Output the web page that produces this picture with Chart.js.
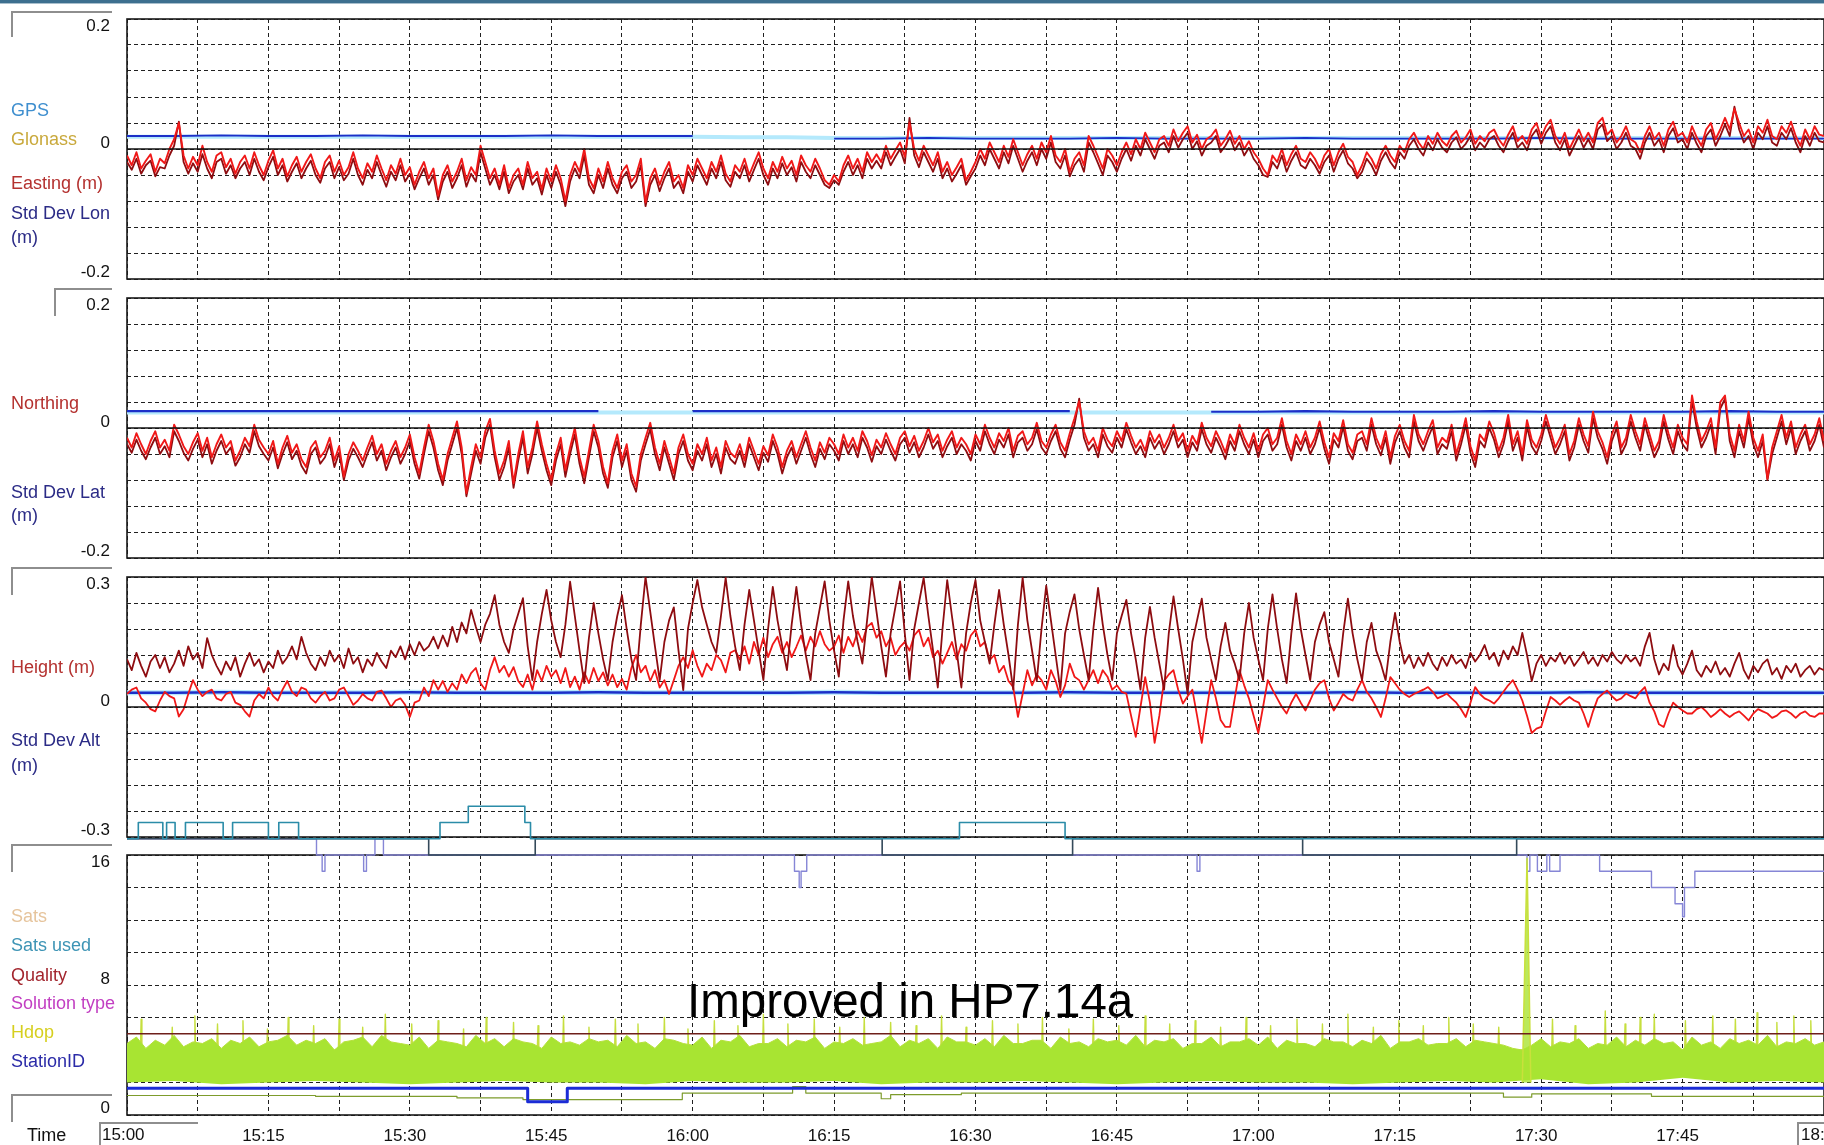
<!DOCTYPE html>
<html>
<head>
<meta charset="utf-8">
<title>GNSS position log 15:00 - 18:00</title>
<script src="https://cdn.jsdelivr.net/npm/chart.js@4.4.1/dist/chart.umd.min.js"></script>
<style>
  html, body { margin: 0; padding: 0; background: #fff; }
  #stage { position: relative; width: 1824px; height: 1145px; overflow: hidden;
           font-family: "Liberation Sans", Arial, sans-serif; }
  #stage canvas { position: absolute; left: 0; top: 0; }
  .bar { position: absolute; left: 0; top: 0; width: 1824px; height: 3px; background: #3d6f8f;
         border-bottom: 1px solid #a9bfcd; }
  .lbl { position: absolute; left: 11px; font-size: 18px; line-height: 20px; white-space: nowrap; }
  .box { position: absolute; border-top: 2px solid #8e8e8e; border-left: 2px solid #8e8e8e; }
  .tm { position: absolute; font-size: 17px; line-height: 20px; color: #111; white-space: nowrap; }
  #note { position: absolute; left: 687px; top: 977px; font-size: 47.5px; line-height: 47px;
          color: #000; white-space: nowrap; z-index: 5; }
</style>
</head>
<body>
<div id="stage">
  <div class="bar"></div>
  <canvas id="pEast" width="1824" height="1145"></canvas>
  <canvas id="pNorth" width="1824" height="1145"></canvas>
  <canvas id="pHeight" width="1824" height="1145"></canvas>
  <canvas id="pStatus" width="1824" height="1145"></canvas>

  <div class="box" style="left:11px;top:11px;width:99px;height:24px"></div>
  <div class="box" style="left:54px;top:288px;width:56px;height:26px"></div>
  <div class="box" style="left:11px;top:567px;width:99px;height:26px"></div>
  <div class="box" style="left:11px;top:844px;width:99px;height:26px"></div>
  <div class="box" style="left:11px;top:1094px;width:99px;height:26px"></div>
  <div class="box" style="left:99px;top:1122px;width:97px;height:23px"></div>
  <div class="box" style="left:1797px;top:1122px;width:40px;height:23px"></div>

  <div class="lbl" style="top:100px;color:#3f8fcf">GPS</div>
  <div class="lbl" style="top:129px;color:#c9a93c">Glonass</div>
  <div class="lbl" style="top:173px;color:#b4312f">Easting (m)</div>
  <div class="lbl" style="top:203px;color:#2b2b86">Std Dev Lon</div>
  <div class="lbl" style="top:227px;color:#2b2b86">(m)</div>

  <div class="lbl" style="top:393px;color:#b4312f">Northing</div>
  <div class="lbl" style="top:482px;color:#2b2b86">Std Dev Lat</div>
  <div class="lbl" style="top:505px;color:#2b2b86">(m)</div>

  <div class="lbl" style="top:657px;color:#b4312f">Height (m)</div>
  <div class="lbl" style="top:730px;color:#2b2b86">Std Dev Alt</div>
  <div class="lbl" style="top:755px;color:#2b2b86">(m)</div>

  <div class="lbl" style="top:906px;color:#e6c49c">Sats</div>
  <div class="lbl" style="top:935px;color:#3d94b5">Sats used</div>
  <div class="lbl" style="top:965px;color:#a3262e">Quality</div>
  <div class="lbl" style="top:993px;color:#c23fc2">Solution type</div>
  <div class="lbl" style="top:1022px;color:#d6cf1e">Hdop</div>
  <div class="lbl" style="top:1051px;color:#2b2ba8">StationID</div>

  <div class="tm" style="left:27px;top:1125px;font-size:18px">Time</div>
  <div class="tm" style="left:102px;top:1125px">15:00</div>
  <div class="tm" style="left:1801px;top:1125px">18:00</div>

  <div id="note">Improved in HP7.14a</div>
</div>

<script>
// ---------------------------------------------------------------------------
// Log data. Time axis is minutes after 15:00 (0 .. 180).
// Position series are in millimetres, sampled every half minute;
// status series are in raw units.
// ---------------------------------------------------------------------------

// clock labels every 15 minutes
const timeLabels = ['15:00','15:15','15:30','15:45','16:00','16:15','16:30',
                    '16:45','17:00','17:15','17:30','17:45','18:00'];

// Easting (raw), every 0.5 min
const eastingMm = [
  -10,-25,-5,-30,-18,-8,-35,-15,-22,0,
  15,40,-10,-30,-12,-25,5,-20,-35,-10,
  -5,-28,-15,-38,-20,-10,-30,-5,-25,-40,
  -18,-2,-30,-15,-42,-25,-12,-35,-20,-8,
  -30,-45,-20,-10,-35,-18,-40,-28,-5,-30,
  -45,-22,-35,-10,-30,-48,-25,-38,-15,-40,
  -28,-55,-35,-20,-45,-30,-72,-40,-25,-50,
  -35,-15,-48,-28,-40,5,-20,-45,-30,-55,
  -25,-60,-40,-30,-55,-20,-45,-35,-62,-30,
  -50,-25,-45,-80,-40,-20,-35,0,-45,-60,
  -30,-50,-20,-45,-60,-35,-25,-50,-40,-15,
  -82,-45,-30,-55,-35,-20,-50,-40,-60,-25,
  -40,-15,-30,-45,-20,-35,-10,-38,-50,-25,
  -35,-15,-40,-22,-5,-30,-45,-20,-35,-12,
  -30,-18,-40,-10,-25,-35,-15,-30,-48,-55,
  -40,-50,-25,-10,-30,-15,-35,-5,-20,-8,
  -20,5,-15,-2,10,-12,40,0,-18,5,
  -10,-25,-5,-35,-20,-40,-28,-15,-48,-35,
  -20,0,-15,10,-5,-20,5,-12,15,-5,
  -25,-8,5,-15,10,-5,20,-10,-20,0,
  -35,-15,-5,-25,20,5,-12,-30,0,-10,
  -25,-5,10,-8,15,0,25,10,-5,15,
  20,5,30,12,25,35,10,22,0,15,
  20,30,5,15,28,8,20,0,12,-5,
  -15,-30,-40,-10,-20,0,-25,-8,5,-15,
  -20,-5,-15,-30,-10,0,-25,-5,8,-12,
  -20,-40,-25,-5,-15,-30,-8,5,-10,-20,
  5,-5,15,25,10,0,20,8,25,12,
  5,20,28,10,18,30,8,20,12,25,
  30,15,5,22,35,12,20,8,30,40,
  18,35,45,20,8,25,0,15,30,12,
  25,10,40,48,22,30,10,20,35,15,
  10,-5,20,35,15,25,5,30,42,20,
  25,10,35,18,5,30,40,15,30,48,
  30,62,40,20,30,10,35,25,45,20,
  15,35,25,42,20,5,30,15,35,22,
  20
];
// Easting (filtered), every 0.5 min
const eastingFilteredMm = [
  -20,-32,-15,-38,-25,-18,-42,-28,-30,-10,
  5,42,-20,-38,-22,-35,-8,-30,-45,-20,
  -15,-38,-25,-45,-30,-20,-40,-15,-35,-48,
  -28,-12,-40,-25,-50,-35,-22,-45,-30,-18,
  -40,-52,-30,-20,-45,-28,-48,-38,-15,-40,
  -55,-32,-45,-20,-40,-58,-35,-48,-25,-50,
  -38,-62,-45,-30,-55,-40,-78,-50,-35,-60,
  -45,-25,-58,-38,-50,-5,-30,-55,-40,-62,
  -35,-68,-50,-40,-62,-30,-55,-45,-70,-40,
  -60,-35,-55,-88,-50,-30,-45,-10,-55,-68,
  -40,-60,-30,-55,-68,-45,-35,-60,-50,-25,
  -88,-55,-40,-65,-45,-30,-60,-50,-68,-35,
  -50,-25,-40,-55,-30,-45,-20,-48,-58,-35,
  -45,-25,-50,-32,-15,-40,-55,-30,-45,-22,
  -40,-28,-50,-20,-35,-45,-25,-40,-55,-60,
  -48,-55,-35,-20,-40,-25,-45,-15,-30,-18,
  -30,-5,-25,-12,0,-22,48,-10,-28,-5,
  -20,-35,-15,-45,-30,-50,-38,-25,-55,-42,
  -30,-10,-25,0,-15,-30,-5,-22,5,-15,
  -35,-18,-5,-25,0,-15,10,-20,-30,-10,
  -42,-25,-15,-35,10,-5,-22,-40,-10,-20,
  -35,-15,0,-18,5,-10,15,0,-15,5,
  10,-5,20,2,15,25,0,12,-10,5,
  10,20,-5,5,18,-2,10,-10,2,-15,
  -25,-40,-43,-20,-30,-10,-35,-18,-5,-25,
  -30,-15,-25,-38,-20,-10,-35,-15,-2,-22,
  -30,-45,-35,-15,-25,-40,-18,-5,-20,-30,
  -5,-15,5,15,0,-10,10,-2,15,2,
  -5,10,18,0,8,20,-2,10,2,15,
  20,5,-5,12,25,2,10,-2,20,30,
  8,25,35,10,-2,15,-10,5,20,2,
  15,0,30,38,12,20,0,10,25,5,
  0,-15,10,25,5,15,-5,20,32,10,
  15,0,25,8,-5,20,30,5,20,38,
  20,65,30,10,20,0,25,15,35,10,
  5,25,15,32,10,-5,20,5,25,12,
  10
];
// Std Dev Lon, every 5 min (null = not reported)
const stdLonMm = [20,20,21,20,20,21,20,20,20,21,20,20,20,null,null,
  16,16,17,16,16,16,17,16,16,16,17,16,16,16,16,17,16,16,16,16,16,16];
const stdLonGlowMm = [19,19,19,19,19,19,19,19,19,19,19,19,19,18,18,
  17,17,17,17,17,17,17,17,17,17,17,17,17,17,17,17,17,17,17,17,17,17];

// Northing (raw), every 0.5 min
const northingMm = [
  -15,-30,-8,-25,-40,-20,-5,-30,-18,-35,
  5,-10,-28,-40,-22,-8,-35,-15,-45,-25,
  -10,-30,-20,-50,-35,-15,-28,5,-18,-30,
  -40,-20,-55,-30,-12,-38,-25,-48,-60,-30,
  -20,-45,-35,-15,-50,-28,-75,-40,-22,-35,
  -50,-30,-12,-40,-25,-55,-35,-20,-45,-30,
  -10,-45,-70,-30,5,-20,-55,-80,-40,-15,
  10,-30,-100,-60,-25,-45,-5,14,-35,-70,
  -50,-20,-85,-40,-5,-60,-30,10,-25,-55,
  -80,-40,-15,-65,-30,0,-45,-75,-35,5,
  -20,-60,-85,-35,-10,-50,-25,-70,-90,-40,
  -15,8,-30,-55,-20,-45,-70,-30,-10,-40,
  -55,-25,-40,-15,-50,-30,-60,-20,-38,-45,
  -25,-50,-15,-35,-55,-28,-42,-10,-30,-60,
  -35,-20,-45,-25,-5,-30,-50,-22,-38,-15,
  -25,-40,-10,-30,-15,-35,-5,-20,-42,-18,
  -30,-8,-25,-40,-15,-5,-28,-12,-35,-20,
  0,-22,-10,-35,-18,-5,-30,-15,-25,-40,
  -10,-25,5,-15,-30,-8,-20,0,-35,-12,
  -5,-25,-15,8,-20,-30,-10,5,-22,-35,
  -8,15,41,-5,-25,-15,-35,0,-18,-28,
  -5,-20,8,-12,-30,-18,-35,-5,-22,-10,
  -30,-15,5,-20,-8,-35,-12,-25,8,-15,
  -28,-5,-20,-38,-10,-25,5,-15,-30,-8,
  -35,-10,0,-25,-15,15,-20,-40,-10,-25,
  -5,-30,-15,10,-22,-45,-8,-20,12,-25,
  -38,-10,-5,-25,15,-15,-32,-5,-45,-12,
  5,-20,-35,20,-10,-25,-5,12,-30,-15,
  -22,5,-40,-15,15,-28,-50,-10,-20,10,
  -8,-35,-15,20,-25,-5,-40,12,-18,-30,
  -10,20,-5,-30,-15,5,-40,-20,15,-10,
  -28,25,-5,-22,-45,-10,10,-30,-15,20,
  -5,-25,15,-10,-35,-20,20,-8,-30,5,
  -15,-25,50,10,-20,-5,15,-30,40,50,
  -10,-35,5,-20,25,-15,-35,-10,-78,-30,
  -5,20,-15,10,-30,-10,5,-25,-10,15,
  -20
];
// Northing (filtered), every 0.5 min
const northingFilteredMm = [
  -25,-38,-18,-35,-48,-30,-15,-40,-28,-45,
  -5,-20,-38,-50,-32,-18,-45,-25,-55,-35,
  -20,-40,-30,-58,-45,-25,-38,-5,-28,-40,
  -50,-30,-62,-40,-22,-48,-35,-58,-70,-40,
  -30,-55,-45,-25,-60,-38,-80,-50,-32,-45,
  -60,-40,-22,-50,-35,-65,-45,-30,-55,-40,
  -20,-55,-78,-40,-5,-30,-65,-88,-50,-25,
  0,-40,-105,-70,-35,-55,-15,5,-45,-80,
  -60,-30,-92,-50,-15,-70,-40,0,-35,-65,
  -88,-50,-25,-75,-40,-10,-55,-85,-45,-5,
  -30,-70,-92,-45,-20,-60,-35,-80,-98,-50,
  -25,-2,-40,-65,-30,-55,-80,-40,-20,-50,
  -65,-35,-50,-25,-60,-40,-70,-30,-48,-55,
  -35,-60,-25,-45,-65,-38,-52,-20,-40,-70,
  -45,-30,-55,-35,-15,-40,-60,-32,-48,-25,
  -35,-50,-20,-40,-25,-45,-15,-30,-52,-28,
  -40,-18,-35,-50,-25,-15,-38,-22,-45,-30,
  -10,-32,-20,-45,-28,-15,-40,-25,-35,-50,
  -20,-35,-5,-25,-40,-18,-30,-10,-45,-22,
  -15,-35,-25,-2,-30,-40,-20,-5,-32,-45,
  -18,5,45,-15,-35,-25,-45,-10,-28,-38,
  -15,-30,-2,-22,-40,-28,-45,-15,-32,-20,
  -40,-25,-5,-30,-18,-45,-22,-35,-2,-25,
  -38,-15,-30,-48,-20,-35,-5,-25,-40,-18,
  -45,-20,-10,-35,-25,5,-30,-50,-20,-35,
  -15,-40,-25,0,-32,-55,-18,-30,2,-35,
  -48,-20,-15,-35,5,-25,-42,-15,-55,-22,
  -5,-30,-45,10,-20,-35,-15,2,-40,-25,
  -32,-5,-50,-25,5,-38,-60,-20,-30,0,
  -18,-45,-25,10,-35,-15,-50,2,-28,-40,
  -20,10,-15,-40,-25,-5,-50,-30,5,-20,
  -38,15,-15,-32,-55,-20,0,-40,-25,10,
  -15,-35,5,-20,-45,-30,10,-18,-40,-5,
  -25,-35,42,0,-30,-15,5,-40,30,45,
  -20,-45,-5,-30,15,-25,-45,-20,-80,-40,
  -15,10,-25,0,-40,-20,-5,-35,-20,5,
  -30
];
// Std Dev Lat, every 5 min
const stdLatMm = [26,26,26,26,26,26,26,26,26,26,26,null,26,26,26,26,26,26,26,26,26,null,null,
  25,25,26,25,25,25,26,25,25,25,25,26,25,25];
const stdLatGlowMm = [24,24,24,24,24,24,24,24,24,24,24,24,24,24,24,24,24,24,24,24,24,24,24,
  24,24,24,24,24,24,24,24,24,24,24,24,24,24];

// Height (raw), every 0.5 min
const heightMm = [
  30,40,45,20,10,-5,-10,15,35,25,
  20,-22,-5,30,62,40,25,35,40,20,
  15,30,35,10,5,-10,-22,15,30,20,
  45,25,15,40,60,35,25,45,40,20,
  10,25,35,15,20,40,45,25,5,15,
  30,20,15,35,38,20,0,15,20,5,
  -23,10,15,45,25,62,40,60,35,55,
  40,75,55,78,90,55,40,85,115,80,
  95,70,92,60,46,75,40,85,60,95,
  70,85,55,90,46,70,40,80,55,90,
  60,80,50,75,46,65,40,90,120,80,
  95,60,85,45,62,30,62,95,115,90,
  131,95,70,100,85,120,108,80,125,131,
  110,140,100,150,120,160,115,145,162,125,
  150,115,139,165,130,162,140,175,145,130,
  139,165,125,162,140,175,150,185,194,160,
  175,140,160,120,139,150,130,165,178,140,
  160,115,130,100,125,150,110,145,130,165,
  178,140,150,108,120,80,95,60,46,-23,
  30,85,50,75,62,40,85,60,23,50,
  100,70,62,40,62,85,55,85,70,40,
  50,35,31,-20,-69,0,69,10,-83,-20,
  60,75,85,40,8,25,40,-20,-83,-10,
  62,20,-30,-46,-46,20,85,50,20,-20,
  -60,0,62,40,20,0,-15,10,30,10,
  -8,15,40,55,62,20,-8,10,30,20,
  15,40,62,35,20,0,-23,20,69,55,
  40,30,23,30,35,40,46,35,20,25,
  31,20,10,-5,-23,10,46,30,20,15,
  8,20,35,50,62,40,15,-20,-60,-50,
  -46,-10,23,15,5,15,23,15,10,-15,
  -46,-10,20,30,38,25,15,20,31,25,
  20,35,46,10,-10,-40,-46,-15,10,0,
  -8,-15,-15,-5,0,-10,-23,-15,-5,-15,
  -23,-15,-10,-20,-31,-15,-5,-10,-15,-25,
  -20,-10,-8,-15,-25,-15,-10,-20,-23,-15,
  -15
];
// Height (filtered), every 0.5 min
const heightFilteredMm = [
  110,85,125,95,70,105,120,90,115,80,
  100,130,95,140,110,125,90,159,120,95,
  75,105,85,115,70,100,125,95,110,80,
  105,90,130,100,115,140,110,162,125,100,
  85,115,95,130,105,120,90,135,100,115,
  80,110,95,125,105,90,130,115,140,110,
  145,120,150,130,140,162,135,165,140,185,
  150,195,170,224,185,150,190,215,258,190,
  150,125,180,215,251,140,62,150,215,270,
  200,150,115,190,289,210,130,55,160,240,
  170,110,62,150,210,258,180,110,62,190,
  300,220,140,62,150,200,230,130,39,180,
  240,293,230,190,150,125,210,298,210,140,
  85,190,270,200,130,62,180,277,200,140,
  85,190,277,190,120,62,170,230,290,200,
  130,70,200,290,210,150,100,200,300,220,
  140,70,170,230,290,170,62,180,240,298,
  210,130,45,180,293,210,130,45,170,240,
  293,200,150,100,190,270,190,120,40,190,
  298,200,130,60,180,280,200,120,40,170,
  220,260,180,120,62,180,275,190,120,62,
  170,210,247,170,110,40,160,231,160,100,
  40,170,255,180,110,30,150,200,250,160,
  110,62,140,194,130,100,62,170,240,160,
  110,62,180,260,180,110,55,170,262,180,
  120,62,150,190,219,150,110,70,170,250,
  170,110,62,150,194,130,100,62,150,217,
  150,100,120,90,115,95,125,100,85,115,
  95,120,100,110,90,125,105,120,143,110,
  125,95,130,110,140,120,171,120,60,100,
  120,95,115,105,125,100,118,95,110,127,
  100,115,95,120,105,127,110,100,120,105,
  115,95,140,171,110,75,100,85,143,95,
  75,100,130,85,70,95,80,105,75,90,
  70,100,125,85,65,95,80,100,110,75,
  90,65,95,80,100,70,85,95,75,90,
  85
];
// Std Dev Alt, every 5 min
const stdAltMm = [33,33,34,33,33,33,34,33,33,33,34,33,33,33,33,34,33,33,33,33,
  34,33,33,33,33,33,34,33,33,33,33,34,33,33,33,33,33];

// Status panel: satellite counts (each value holds from its time until the next)
const satsT = [0, 32, 43.3, 80.1, 100.3, 124.7, 147.4, 180];
const satsV = [17, 16, 17, 16, 17, 16, 17, 17];
const satsUsedT = [0, 1.2, 3.8, 4.2, 5.1, 6.2, 10.2, 11.2, 15, 16.1, 18.2,
                   33.2, 36.2, 42.2, 42.8, 80.1, 88.3, 99.5, 124.7, 147.4, 180];
const satsUsedV = [17, 18, 17, 18, 17, 18, 17, 18, 17, 18, 17,
                   18, 19, 18, 17, 17, 18, 17, 17, 17, 17];
const gpsSatsT = [0, 20.1, 20.7, 21.0, 25.1, 25.4, 26.3, 27.2, 70.8, 71.3, 71.5, 72.1,
                  113.5, 113.8, 148.5, 148.8, 149.6, 150.6, 150.9, 152.0, 156.2, 161.7,
                  164.2, 165.0, 165.2, 166.3, 180];
const gpsSatsV = [17, 16, 15, 16, 15, 16, 17, 16, 15, 14, 15, 16,
                  15, 16, 15, 16, 15, 16, 15, 16, 15, 14,
                  13, 12.2, 14, 15, 15];

// Quality and station id
const qualityT = [0, 180];
const qualityV = [5, 5];
const stationT = [0, 42.5, 43.3, 46.7, 180];
const stationV = [1.65, 0.82, 0.82, 1.65, 1.65];

// Hdop: upper edge of the per-epoch band (1 min), lower edge (5 min),
// isolated peaks above the band, and the outage spike near 17:28
const hdopBandTop = [
  4.4,4.8,4.1,4.6,4.3,4.9,4.2,4.5,4.4,4.7,
  4.1,4.6,4.4,4.8,4.2,4.5,4.6,4.9,4.3,4.6,
  4.4,4.7,4.0,4.5,4.6,4.8,4.2,4.9,4.5,4.4,
  4.3,4.8,4.1,4.6,4.5,4.4,4.2,4.9,4.4,4.7,
  4.2,4.7,4.5,4.4,4.1,4.8,4.4,4.5,4.3,4.7,
  4.5,4.6,4.2,4.9,4.4,4.5,4.1,4.7,4.6,4.4,
  4.3,4.8,4.1,4.6,4.5,4.9,4.2,4.4,4.4,4.7,
  4.2,4.6,4.5,4.8,4.1,4.5,4.4,4.7,4.3,4.4,
  4.5,4.9,4.2,4.6,4.4,4.7,4.1,4.8,4.5,4.5,
  4.3,4.7,4.2,4.9,4.4,4.4,4.6,4.6,4.1,4.8,
  4.4,4.5,4.2,4.7,4.5,4.6,4.3,4.9,4.2,4.6,
  4.5,4.7,4.1,4.4,4.4,4.8,4.2,4.5,4.5,4.7,
  4.3,4.8,4.1,4.6,4.4,4.4,4.2,4.7,4.5,4.5,
  4.2,4.6,4.4,4.9,4.1,4.5,4.5,4.7,4.3,4.4,
  4.4,4.7,4.2,4.6,4.5,4.4,4.3,4.1,4.0,4.3,
  4.7,4.2,4.5,4.4,4.7,4.1,4.4,4.3,4.8,4.2,
  4.6,4.3,4.7,4.4,4.5,4.0,4.8,4.3,4.5,4.1,
  4.7,4.4,4.6,4.3,4.9,4.2,4.5,4.4,4.7,4.3,
  4.5
];
const hdopBandBottom = [2.0,2.1,1.9,2.0,2.1,2.0,1.9,2.0,2.1,2.0,
  2.0,1.9,2.1,2.0,2.0,2.1,1.9,2.0,2.0,2.1,
  2.0,1.9,2.0,2.1,2.0,2.0,1.9,2.0,2.1,2.0,
  2.2,1.9,2.0,2.3,2.0,2.1,2.0];
const hdopPeakT = [1.5,4.8,7.2,9.6,12.3,14.9,17.1,19.8,22.5,25.0,
  27.4,30.2,33.0,35.7,38.1,41.0,43.6,46.3,49.0,51.8,
  54.2,57.0,59.5,62.3,64.8,67.5,70.1,72.9,75.6,78.2,
  81.0,83.7,86.4,89.0,91.8,94.5,97.1,99.9,102.5,105.2,
  108.0,110.6,113.3,116.0,118.7,121.3,124.1,126.8,129.5,132.2,
  134.9,137.5,140.2,142.8,145.5,151.2,153.6,156.8,158.9,160.5,
  162.0,165.3,168.2,170.6,172.9,175.0,176.8,178.6];
const hdopPeakV = [5.9,5.4,6.1,5.6,5.8,5.3,6.0,5.5,5.9,5.4,
  6.2,5.6,5.8,5.3,6.0,5.7,5.5,6.1,5.4,5.9,
  5.6,6.0,5.3,5.8,5.5,6.2,5.6,5.9,5.4,6.0,
  5.7,5.5,6.1,5.4,5.8,5.6,6.0,5.3,5.9,5.5,
  6.1,5.6,5.8,5.4,6.0,5.5,5.9,5.6,6.2,5.4,
  5.8,5.5,6.0,5.6,5.4,5.9,5.5,6.4,5.6,6.0,
  6.2,5.8,6.1,5.9,6.3,5.7,6.1,5.8];
const hdopOutageT = [148.0, 148.5, 148.9];
const hdopOutageV = [2.0, 15.8, 2.0];
// low-level Hdop trace (each value holds from its time until the next)
const hdopTraceT = [0, 20, 35, 42, 58.9, 70.6, 72, 80, 81, 88.5, 146, 149, 161.7, 180];
const hdopTraceV = [1.2, 1.15, 1.05, 0.95, 1.35, 1.75, 1.35, 1.0, 1.25, 1.35, 1.1, 1.3, 1.15, 1.15];

// ---------------------------------------------------------------------------
// Rendering
// ---------------------------------------------------------------------------
const W = 1824, H = 1145, PLOT_LEFT = 127;
const FONT = '"Liberation Sans", Arial, sans-serif';
Chart.defaults.font.family = FONT;

const RED = '#f01818', DARK_RED = '#8e0c10', BLUE = '#1b2fc8', GLOW = '#b4e9fc';
const GRID = '#202020';

function sampled(values, step) {
  return values.map((v, i) => ({ x: i * step, y: v }));
}
function paired(times, values) {
  return times.map((t, i) => ({ x: t, y: values[i] }));
}
function peaks(times, heights, base) {
  const pts = [];
  times.forEach((t, i) => {
    pts.push({ x: t - 0.08, y: base }, { x: t, y: heights[i] }, { x: t + 0.08, y: base });
  });
  return pts;
}
function line(data, color, width, extra) {
  return Object.assign({ data, borderColor: color, borderWidth: width, pointRadius: 0,
    tension: 0, fill: false, spanGaps: false, borderJoinStyle: 'round' }, extra || {});
}

function buildPanel(canvasId, top, bottom, y, datasets, opts) {
  opts = opts || {};
  const axisHeight = opts.timeAxis ? H - bottom : 0;
  const framePlugin = {
    id: 'panelFrame',
    beforeDatasetsDraw(chart) {
      const { ctx, chartArea: a } = chart;
      ctx.save();
      ctx.setLineDash([]);
      ctx.strokeStyle = '#1a1a1a';
      ctx.lineWidth = 1.6;
      ctx.strokeRect(a.left, a.top, a.right - a.left, a.bottom - a.top);
      ctx.restore();
    },
    afterDatasetsDraw(chart) {
      if (!opts.zeroLine) return;
      const { ctx, chartArea: a } = chart;
      const py = chart.scales.y.getPixelForValue(0);
      ctx.save();
      ctx.setLineDash([]);
      ctx.strokeStyle = '#111';
      ctx.lineWidth = 1.6;
      ctx.beginPath();
      ctx.moveTo(a.left, py);
      ctx.lineTo(a.right, py);
      ctx.stroke();
      ctx.restore();
    },
    afterDraw(chart) {
      const { ctx } = chart;
      const s = chart.scales.y;
      ctx.save();
      ctx.font = '17px ' + FONT;
      ctx.fillStyle = '#111';
      ctx.textAlign = 'right';
      ctx.textBaseline = 'alphabetic';
      y.labels.forEach(v => {
        const py = s.getPixelForValue(v);
        const mid = v === y.max ? py + 6 : (v === y.min ? py - 8 : py - 7);
        ctx.fillText(y.format(v), 110, mid + 6);
      });
      ctx.restore();
    }
  };

  return new Chart(document.getElementById(canvasId), {
    type: 'line',
    data: { datasets },
    plugins: [framePlugin],
    options: {
      responsive: false,
      animation: false,
      devicePixelRatio: 1,
      events: [],
      layout: { autoPadding: false,
                padding: { left: PLOT_LEFT, right: 0, top: top, bottom: H - bottom - axisHeight } },
      plugins: { legend: { display: false }, tooltip: { enabled: false } },
      scales: {
        x: {
          type: 'linear', min: 0, max: 180, position: 'bottom',
          afterFit: s => { s.height = axisHeight; s.paddingLeft = 0; s.paddingRight = 0; },
          grid: { color: GRID, lineWidth: 1, drawTicks: false },
          border: { display: false, dash: [4, 3] },
          ticks: {
            stepSize: 7.5, maxTicksLimit: 100, autoSkip: false, maxRotation: 0, minRotation: 0,
            display: !!opts.timeAxis, padding: 11, labelOffset: -5, color: '#111',
            font: { size: 17, family: FONT },
            callback: v => (v > 0 && v < 180 && v % 15 === 0) ? timeLabels[v / 15] : ''
          }
        },
        y: {
          type: 'linear', min: y.min, max: y.max,
          afterFit: s => { s.width = 0; s.paddingTop = 0; s.paddingBottom = 0; },
          grid: { color: GRID, lineWidth: 1, drawTicks: false },
          border: { display: false, dash: [4, 3] },
          ticks: { stepSize: y.step, display: false }
        }
      }
    }
  });
}

const metres = v => String(v / 1000);

// Easting / Std Dev Lon
buildPanel('pEast', 19, 279,
  { min: -200, max: 200, step: 40, labels: [200, 0, -200], format: metres },
  [
    line(sampled(eastingMm, 0.5), RED, 1.9),
    line(sampled(eastingFilteredMm, 0.5), DARK_RED, 1.8),
    line(sampled(stdLonMm, 5), BLUE, 1.8),
    line(sampled(stdLonGlowMm, 5), GLOW, 4)
  ], { zeroLine: true });

// Northing / Std Dev Lat
buildPanel('pNorth', 298, 558,
  { min: -200, max: 200, step: 40, labels: [200, 0, -200], format: metres },
  [
    line(sampled(northingMm, 0.5), RED, 1.9),
    line(sampled(northingFilteredMm, 0.5), DARK_RED, 1.8),
    line(sampled(stdLatMm, 5), BLUE, 2.2),
    line(sampled(stdLatGlowMm, 5), GLOW, 4)
  ], { zeroLine: true });

// Height / Std Dev Alt
buildPanel('pHeight', 577, 837,
  { min: -300, max: 300, step: 60, labels: [300, 0, -300], format: metres },
  [
    line(sampled(heightFilteredMm, 0.5), DARK_RED, 1.8),
    line(sampled(heightMm, 0.5), RED, 1.8),
    line(sampled(stdAltMm, 5), BLUE, 2.4),
    line(sampled(stdAltMm, 5), GLOW, 5)
  ], { zeroLine: true });

// Satellites, quality, Hdop, station
buildPanel('pStatus', 855, 1115,
  { min: 0, max: 16, step: 2, labels: [16, 8, 0], format: v => String(v) },
  [
    line(paired(stationT, stationV), '#1b2cd6', 3, { stepped: true }),
    line(paired(qualityT, qualityV), '#6e1f1a', 1.6),
    line(paired(hdopTraceT, hdopTraceV), '#7d9c2c', 1.2, { stepped: true }),
    line(paired(hdopOutageT, hdopOutageV), '#c9e03c', 1.5,
         { clip: false, fill: { value: 2 }, backgroundColor: 'rgba(170,228,50,0.8)' }),
    line(sampled(hdopBandTop, 1), '#b4e03a', 1,
         { fill: '+1', backgroundColor: '#a8e432' }),
    line(sampled(hdopBandBottom, 5), 'rgba(0,0,0,0)', 0),
    line(peaks(hdopPeakT, hdopPeakV, 4.0), '#c6df3e', 1.4),
    line(paired(satsUsedT, satsUsedV), '#2b8ca8', 1.6, { stepped: true, clip: false }),
    line(paired(satsT, satsV), '#34495a', 1.6, { stepped: true, clip: false }),
    line(paired(gpsSatsT, gpsSatsV), '#8686d6', 1.4, { stepped: true, clip: false })
  ], { timeAxis: true });
</script>
</body>
</html>
